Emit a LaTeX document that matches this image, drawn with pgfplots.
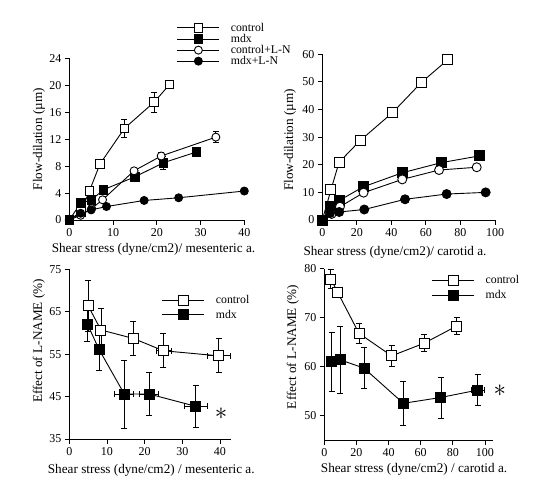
\documentclass[border=0pt]{standalone}
\usepackage{fontspec}
\setmainfont{Liberation Serif}
\usepackage{pgfplots}
\pgfplotsset{compat=1.18}
\usepackage{pgfplotstable}

% ---------- data ----------
% top left: mesenteric artery, flow-dilation
\pgfplotstableread{
x y ey
0 0 0
2.6 1.2 0
4.6 4.3 0
7.0 8.3 0
12.6 13.6 1.3
19.4 17.5 1.5
22.9 20.1 0.5
}\mesCtrl
\pgfplotstableread{
x y ey
0 0 0
2.6 2.5 0
5.1 3.0 0
7.8 4.5 0
15.0 6.4 0
21.5 8.5 1.0
29.1 10.1 0
}\mesMdx
\pgfplotstableread{
x y ey
0 0 0
2.6 0.7 0
5.1 1.7 0
7.6 3.0 0
14.8 7.3 0
21.0 9.5 0.5
33.5 12.3 0.8
}\mesCtrlLN
\pgfplotstableread{
x y ey
0 0 0
2.6 1.0 0
5.0 1.5 0
8.5 2.0 0
17.1 2.9 0
25.0 3.3 0
40.0 4.3 0
}\mesMdxLN
% top right: carotid artery, flow-dilation
\pgfplotstableread{
x y
0 0
5.0 10.9
9.7 20.9
21.8 28.7
40.7 38.9
57.5 49.9
72.6 58.0
}\carCtrl
\pgfplotstableread{
x y
0 0
5.0 5.0
10.2 7.2
23.7 12.0
46.3 17.1
69.1 20.8
90.9 23.2
}\carMdx
\pgfplotstableread{
x y
0 0
5.4 2.2
10.2 4.8
23.9 9.9
46.3 14.7
67.6 18.1
89.4 19.1
}\carCtrlLN
\pgfplotstableread{
x y
0 0
4.5 2.5
9.8 2.9
24.3 3.8
47.9 7.5
72.0 9.4
94.6 10.0
}\carMdxLN
% bottom left: effect of L-NAME, mesenteric
\pgfplotstableread{
x y ex ey
5.0 66.4 0 6.0
8.4 60.7 0 5.0
17.0 58.7 1.0 4.0
25.0 55.8 2.0 4.0
39.7 54.6 3.0 4.0
}\effMesCtrl
\pgfplotstableread{
x y ex ey
4.8 62.1 0 4.0
7.9 56.1 0 5.0
14.6 45.6 2.5 8.0
21.2 45.6 2.5 5.0
33.6 42.7 3.0 5.0
}\effMesMdx
% bottom right: effect of L-NAME, carotid
\pgfplotstableread{
x y ex ey
4.1 77.9 0 2.0
8.3 75.2 0 1.0
21.6 66.8 0 2.1
41.9 62.2 0 2.1
62.2 64.8 0 1.7
82.4 68.3 0 1.8
}\effCarCtrl
\pgfplotstableread{
x y ex ey
4.6 61.0 0 6.0
9.8 61.4 0 6.9
24.7 59.7 0 4.2
49.2 52.5 0 4.5
72.6 53.7 0 4.2
95.4 55.2 4.0 3.2
}\effCarMdx

\pgfplotsset{
  panel/.style={
    scale only axis,
    anchor=south west,
    axis lines*=left,
    axis line style={line width=1pt},
    tick align=outside,
    major tick length=4.5pt,
    tick style={black, line width=0.9pt},
    every tick label/.append style={font=\fontsize{12}{12}\selectfont},
    /pgf/number format/assume math mode=true,
    label style={font=\fontsize{13.2}{14}\selectfont},
    clip=false,
    every axis plot/.append style={black, line width=0.9pt},
    legend style={draw=none, fill=none, inner sep=0pt, outer sep=0pt,
      anchor=north west, font=\fontsize{11.8}{11.8}\selectfont,
      nodes={inner sep=0pt, text height=7pt, text depth=2pt, anchor=base west},
      column sep=0pt},
    legend cell align=left,
    legend image code/.code={
      \draw[mark repeat=2,mark phase=2] plot coordinates {(0pt,3.5pt) (21pt,3.5pt) (42pt,3.5pt)};
      \path (53pt,3.5pt);
    },
  },
  oS/.style={mark=square*, mark options={fill=white, solid, line width=0.9pt}},
  fS/.style={mark=square*, mark options={fill=black, solid}},
  oC/.style={mark=*, mark options={fill=white, solid, line width=0.9pt}},
  fC/.style={mark=*, mark options={fill=black, solid}},
  eb/.style={error bars/.cd, y dir=both, y explicit, x dir=both, x explicit,
    error bar style={line width=0.8pt},
    error mark options={rotate=90, line width=0.8pt, mark size=3pt, black}},
}

\begin{document}
\begin{tikzpicture}
\path[use as bounding box] (0pt,0pt) rectangle (535pt,-484pt);

% ---------- top left ----------
\begin{axis}[panel,
  at={(69.3pt,-220pt)}, width=175pt, height=161.7pt,
  xmin=0, xmax=40, ymin=0, ymax=24,
  xtick={0,10,20,30,40}, ytick={0,4,8,12,16,20,24},
  xlabel={Shear stress (dyne/cm2)/ mesenteric a.},
  ylabel={Flow-dilation (µm)},
  xlabel style={at={(axis description cs:0.481,-0.18)}, anchor=center},
  ylabel style={at={(axis description cs:-0.173,0.5)}, anchor=center},
  legend style={at={(axis description cs:0.615,1.215)}, row sep=1.5pt},
  mark size=4.3pt,
]
\addplot[oS, eb] table[x=x, y=y, y error=ey] {\mesCtrl};
\addlegendentry{control}
\addplot[fS, eb] table[x=x, y=y, y error=ey] {\mesMdx};
\addlegendentry{mdx}
\addplot[oC, mark size=4pt, eb] table[x=x, y=y, y error=ey] {\mesCtrlLN};
\addlegendentry{control+L-N}
\addplot[fC, mark size=4pt] table[x=x, y=y] {\mesMdxLN};
\addlegendentry{mdx+L-N}
\end{axis}

% ---------- top right ----------
\begin{axis}[panel,
  at={(322.3pt,-220pt)}, width=172.7pt, height=165.7pt,
  xmin=0, xmax=100, ymin=0, ymax=60,
  xtick={0,20,40,60,80,100}, ytick={0,10,20,30,40,50,60},
  xlabel={Shear stress (dyne/cm2)/ carotid a.},
  ylabel={Flow-dilation (µm)},
  xlabel style={at={(axis description cs:0.421,-0.197)}, anchor=center},
  ylabel style={at={(axis description cs:-0.187,0.483)}, anchor=center},
  mark size=5pt,
]
\addplot[oS] table[x=x, y=y] {\carCtrl};
\addplot[fS] table[x=x, y=y] {\carMdx};
\addplot[oC, mark size=4.5pt] table[x=x, y=y] {\carCtrlLN};
\addplot[fC, mark size=4.5pt] table[x=x, y=y] {\carMdxLN};
\end{axis}

% ---------- bottom left ----------
\begin{axis}[panel,
  at={(69.3pt,-439pt)}, width=162pt, height=169.7pt,
  xmin=0, xmax=43, ymin=35, ymax=75,
  xtick={0,10,20,30,40}, ytick={35,45,55,65,75},
  xlabel={Shear stress (dyne/cm2) / mesenteric a.},
  ylabel={Effect of L-NAME (\%)},
  xlabel style={at={(axis description cs:0.506,-0.183)}, anchor=center},
  ylabel style={at={(axis description cs:-0.187,0.578)}, anchor=center},
  legend style={at={(axis description cs:0.572,0.848)}, row sep=4pt},
  mark size=5pt,
]
\addplot[oS, eb] table[x=x, y=y, x error=ex, y error=ey] {\effMesCtrl};
\addlegendentry{control}
\addplot[fS, eb] table[x=x, y=y, x error=ex, y error=ey] {\effMesMdx};
\addlegendentry{mdx}
\node[font=\fontsize{26}{26}\selectfont] at (axis cs:40.3,41.0) {$\ast$};
\end{axis}

% ---------- bottom right ----------
\begin{axis}[panel,
  at={(324.3pt,-440pt)}, width=168.7pt, height=171.2pt,
  xmin=0, xmax=105, ymin=45, ymax=80,
  xtick={0,20,40,60,80,100}, ytick={50,60,70,80},
  xlabel={Shear stress (dyne/cm2) / carotid a.},
  ylabel={Effect of L-NAME (\%)},
  xlabel style={at={(axis description cs:0.532,-0.169)}, anchor=center},
  ylabel style={at={(axis description cs:-0.186,0.543)}, anchor=center},
  legend style={at={(axis description cs:0.637,0.962)}, row sep=4.6pt},
  mark size=5pt,
]
\addplot[oS, eb] table[x=x, y=y, x error=ex, y error=ey] {\effCarCtrl};
\addlegendentry{control}
\addplot[fS, eb] table[x=x, y=y, x error=ex, y error=ey] {\effCarMdx};
\addlegendentry{mdx}
\node[font=\fontsize{26}{26}\selectfont] at (axis cs:109.3,55.0) {$\ast$};
\end{axis}
\end{tikzpicture}
\end{document}
